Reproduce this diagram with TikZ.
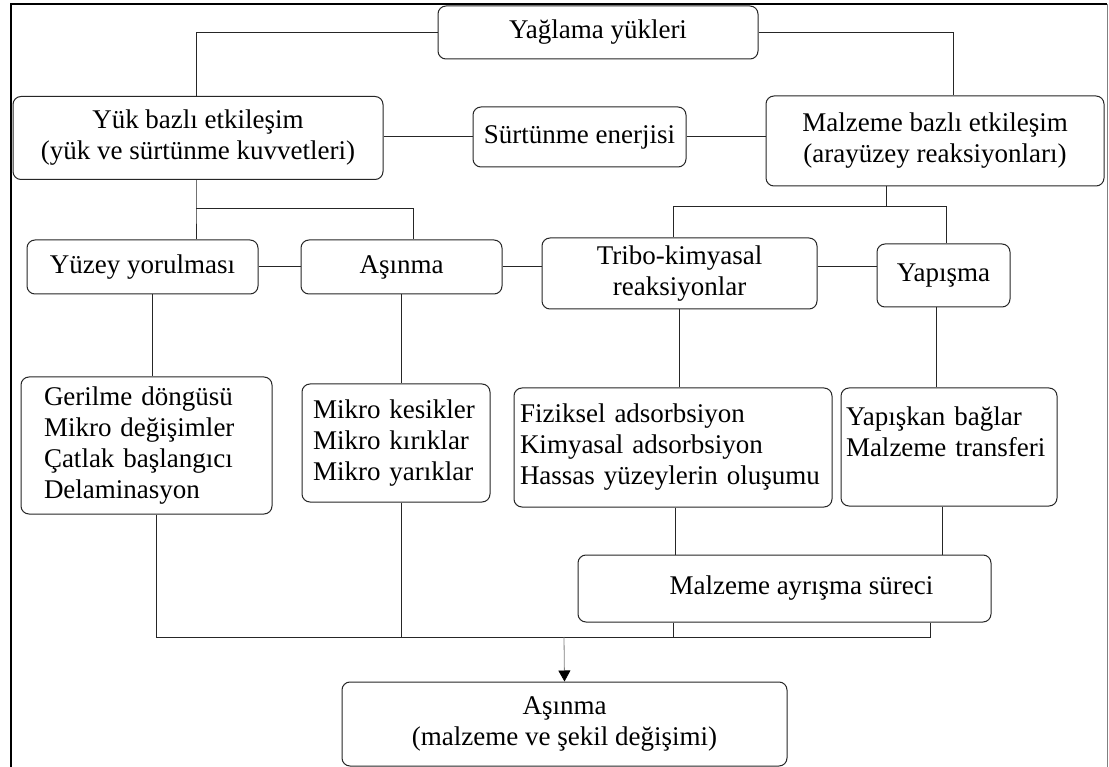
\documentclass[tikz,border=0pt]{standalone}
\usepackage{fontspec}
\setmainfont{Liberation Serif}
\usetikzlibrary{arrows.meta}

\newcommand{\kfont}{\fontsize{27}{31}\selectfont}
\tikzset{
  kutu/.style={draw=black!85, line width=1pt, rounded corners=8pt, inner sep=0pt, align=center, font=\kfont},
  liste/.style={kutu, align=left},
  hat/.style={draw=black!85, line width=1pt},
  ok/.style={draw=black!50, line width=0.8pt, -{Triangle[width=12pt,length=11pt,color=black]}},
}

\begin{document}
\begin{tikzpicture}[x=1pt,y=-1pt]
        \fill[white] (0,0) rectangle (1109,767);
        \useasboundingbox (0,0) rectangle (1109,767);
        % frame
        \draw[line width=2pt] (11,790) -- (11,4) -- (1107,4);
        \draw[black!50, line width=1pt] (1107,4) -- (1107,790);
        % top row
        \node[kutu, minimum width=320pt, minimum height=53pt] (yag) at (598,32.5) {Yağlama yükleri};
        \node[kutu, minimum width=370pt, minimum height=83pt] (yuk) at (198,138) {Yük bazlı etkileşim\\(yük ve sürtünme kuvvetleri)};
        \node[kutu, minimum width=213pt, minimum height=60pt] (enerji) at (579.5,137) {Sürtünme enerjisi};
        \node[kutu, minimum width=338pt, minimum height=90pt] (malz) at (935,141) {Malzeme bazlı etkileşim\\(arayüzey reaksiyonları)};
        % middle row
        \node[kutu, minimum width=231pt, minimum height=54pt] (yuzey) at (142.5,267) {Yüzey yorulması};
        \node[kutu, minimum width=201pt, minimum height=54pt] (asinma) at (401.5,267) {Aşınma};
        \node[kutu, minimum width=275pt, minimum height=71pt] (tribo) at (679.5,273.5) {Tribo-kimyasal\\reaksiyonlar};
        \node[kutu, minimum width=133pt, minimum height=63pt] (yapisma) at (943.5,275.5) {Yapışma};
        % lists
        \node[liste, text width=205pt, minimum width=251pt, minimum height=137pt] (gerilme) at (146.5,445.5) {Gerilme döngüsü\\Mikro değişimler\\Çatlak başlangıcı\\Delaminasyon};
        \node[liste, text width=166pt, minimum width=188pt, minimum height=118pt] (mikro) at (396,443) {Mikro kesikler\\Mikro kırıklar\\Mikro yarıklar};
        \node[liste, text width=306pt, minimum width=318pt, minimum height=119pt] (fiz) at (673,447.5) {Fiziksel adsorbsiyon\\Kimyasal adsorbsiyon\\Hassas yüzeylerin oluşumu};
        \node[liste, text width=206pt, minimum width=216pt, minimum height=118pt] (yapiskan) at (949,447) {Yapışkan bağlar\\Malzeme transferi\\\mbox{}};
        % bottom
        \node[kutu, minimum width=413pt, minimum height=67pt] (ayrisma) at (784.5,588.5) {\hspace*{34pt}Malzeme ayrışma süreci};
        \node[kutu, minimum width=445pt, minimum height=84pt] (son) at (564.5,724) {Aşınma\\(malzeme ve şekil değişimi)};
        % junctions
        \coordinate (ja) at (196,209);
        \coordinate (jb) at (886,207);
        \coordinate (jc) at (564,637);
        % edges
        \draw[hat] (yag.west) -| ([xshift=-2pt]yuk.north);
        \draw[hat] (yag.east) -| ([xshift=18pt]malz.north);
        \draw[hat] (yuk.east |- enerji.west) -- (enerji.west);
        \draw[hat] (enerji.east) -- (malz.west |- enerji.east);
        \draw[hat] ([xshift=-2pt]yuk.south) -- (ja) -- (ja |- yuzey.north);
        \draw[hat] (ja) -| ([xshift=12pt]asinma.north);
        \draw[hat] (malz.south -| jb) -- (jb);
        \draw[hat] (jb) -| ([xshift=-6pt]tribo.north);
        \draw[hat] (jb) -| ([xshift=3pt]yapisma.north);
        \draw[hat] (yuzey.east) -- (asinma.west);
        \draw[hat] (asinma.east) -- (tribo.west |- asinma.east);
        \draw[hat] (tribo.east |- asinma.east) -- (yapisma.west |- asinma.east);
        \draw[hat] ([xshift=10pt]yuzey.south) -- ([xshift=10pt]yuzey.south |- gerilme.north);
        \draw[hat] (asinma.south) -- (asinma.south |- mikro.north);
        \draw[hat] (tribo.south) -- (tribo.south |- fiz.north);
        \draw[hat] ([xshift=-7pt]yapisma.south) -- ([xshift=-7pt]yapisma.south |- yapiskan.north);
        \draw[hat] ([xshift=2pt]fiz.south) -- ([xshift=2pt]fiz.south |- ayrisma.north);
        \draw[hat] ([xshift=-7pt]yapiskan.south) -- ([xshift=-7pt]yapiskan.south |- ayrisma.north);
        \draw[hat] ([xshift=10pt]gerilme.south) |- ([xshift=146pt]ayrisma.south |- jc) -- ([xshift=146pt]ayrisma.south);
        \draw[hat] ([xshift=5pt]mikro.south) -- ([xshift=5pt]mikro.south |- jc);
        \draw[hat] ([xshift=-111pt]ayrisma.south) -- ([xshift=-111pt]ayrisma.south |- jc);
        % arrow
        \draw[ok] (jc) -- (son.north);
\end{tikzpicture}
\end{document}
